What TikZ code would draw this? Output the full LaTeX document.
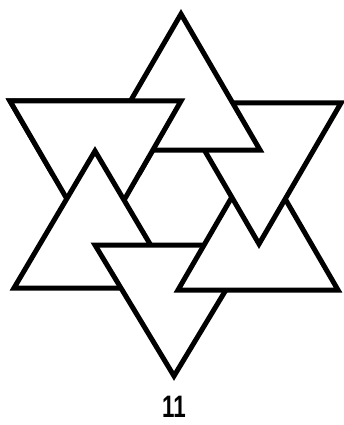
\documentclass[tikz,border=0pt]{standalone}
\usepackage{fontspec}
\setmainfont{Liberation Sans}
\begin{document}
\begin{tikzpicture}[x=1pt,y=-1pt,
  tri/.style={draw=black,fill=white,line width=5pt,line join=miter}]
\fill[white] (0,0) rectangle (343,425);
\useasboundingbox (0,0) rectangle (343,425);
% vertices
\coordinate (T1a) at (181,14);  \coordinate (T1b) at (260,150); \coordinate (T1c) at (102,150);
\coordinate (R1a) at (177,103); \coordinate (R1b) at (341,103); \coordinate (R1c) at (259,244);
\coordinate (R2a) at (258,152); \coordinate (R2b) at (338,290); \coordinate (R2c) at (178,290);
\coordinate (Ba)  at (95,245);  \coordinate (Bb)  at (253,245); \coordinate (Bc)  at (174,376);
\coordinate (L2a) at (95,151);  \coordinate (L2b) at (176,288); \coordinate (L2c) at (14,288);
\coordinate (L1a) at (10,101);  \coordinate (L1b) at (181,101); \coordinate (L1c) at (96,249);
% cyclic stacking: L1 < L2 < B < R2 < R1 < T1 < L1
\draw[tri] (L1a) -- (L1b) -- (L1c) -- cycle;
\draw[tri] (L2a) -- (L2b) -- (L2c) -- cycle;
\draw[tri] (Ba) -- (Bb) -- (Bc) -- cycle;
\draw[tri] (R2a) -- (R2b) -- (R2c) -- cycle;
\draw[tri] (R1a) -- (R1b) -- (R1c) -- cycle;
\draw[tri] (T1a) -- (T1b) -- (T1c) -- cycle;
% close the cycle: L1 over T1, L2 still over L1
\begin{scope}
  \clip (0,0) rectangle (205,175);
  \draw[tri] (L1a) -- (L1b) -- (L1c) -- cycle;
  \draw[tri] (L2a) -- (L2b) -- (L2c) -- cycle;
\end{scope}
\node[font=\fontsize{31}{31}\selectfont\bfseries] (lbl) at (174,407) {\scalebox{0.72}[1]{11}};
\end{tikzpicture}
\end{document}
